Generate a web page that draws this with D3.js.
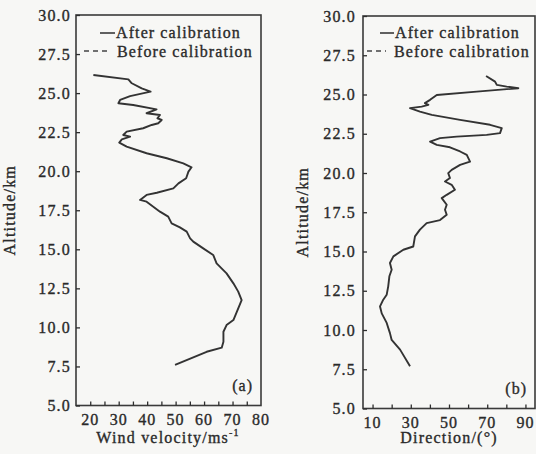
<!DOCTYPE html>
<html>
<head>
<meta charset="utf-8">
<script src="https://cdn.jsdelivr.net/npm/d3@7"></script>
<style>
  html, body { margin: 0; padding: 0; background: #f7f7f5; }
  svg { display: block; }
  text { font-family: "Liberation Serif", "DejaVu Serif", serif; fill: #2a2a2a; stroke: #2a2a2a; stroke-width: 0.35px; }
</style>
</head>
<body>
<svg id="chart" width="536" height="454"></svg>
<script>
// ---------- data ----------
const yTicks = [5.0, 7.5, 10.0, 12.5, 15.0, 17.5, 20.0, 22.5, 25.0, 27.5, 30.0];
const velTickLabels = [20, 30, 40, 50, 60, 70, 80];
const velMinorTicks = [20, 25, 30, 35, 40, 45, 50, 55, 60, 65, 70, 75];
const dirTickLabels = [10, 30, 50, 70, 90];
const dirMinorTicks = [10, 20, 30, 40, 50, 60, 70, 80, 90];
const legendLabels = ["After calibration", "Before calibration"];

// wind velocity (m/s) vs altitude (km)
const windAlt = [26.16, 25.88, 25.63, 25.30, 25.09, 24.81, 24.56, 24.35, 24.24, 23.96, 23.71, 23.60, 23.39, 23.28, 23.07,
  22.96, 22.75, 22.53, 22.32, 22.21, 22.04, 21.83, 21.57, 21.15, 20.83, 20.50, 20.25, 19.97, 19.55, 19.22, 18.90,
  18.62, 18.48, 18.16, 18.05, 17.41, 17.09, 16.66, 16.40, 16.13, 15.70, 15.49, 15.06, 14.64, 14.10, 13.46, 12.82,
  12.29, 11.75, 11.00, 10.47, 10.15, 9.72, 9.08, 8.70, 8.44, 7.60];
const windVel = [21.1, 33.4, 34.6, 38.1, 41.2, 34.0, 30.5, 29.9, 35.1, 43.3, 39.8, 44.5, 43.6, 45.1, 43.9,
  41.6, 38.6, 32.8, 31.6, 34.0, 31.1, 30.2, 32.8, 39.8, 46.9, 52.7, 55.6, 54.5, 53.7, 51.0, 49.2,
  43.4, 39.8, 37.5, 39.8, 44.5, 47.4, 48.6, 51.5, 53.9, 55.1, 56.2, 59.7, 63.2, 64.4, 67.9, 70.3,
  72.0, 73.2, 71.5, 70.3, 67.9, 66.8, 66.8, 66.2, 60.9, 49.8];

// wind direction (deg) vs altitude (km)
const dirAlt = [26.18, 25.82, 25.61, 25.50, 25.40, 25.18, 24.97, 24.66, 24.45, 24.34, 24.23, 24.13, 23.91, 23.70,
  23.38, 23.07, 22.86, 22.54, 22.43, 22.32, 22.22, 22.00, 21.79, 21.64, 21.37, 21.16, 20.73, 20.52, 20.20, 19.99,
  19.68, 19.46, 19.25, 18.93, 18.61, 18.40, 17.98, 17.66, 17.34, 17.00, 16.81, 16.39, 15.96, 15.32, 15.11, 14.69,
  14.27, 13.84, 13.42, 12.78, 12.25, 11.93, 11.50, 11.06, 10.45, 9.80, 9.37, 8.75, 7.69];
const dirVal = [69.4, 74.1, 75.0, 80.2, 86.3, 64.5, 43.6, 40.1, 37.4, 39.2, 35.7, 29.6, 34.8, 41.0,
  55.8, 71.5, 77.6, 76.7, 69.7, 54.0, 45.3, 40.1, 43.6, 50.5, 55.8, 59.3, 61.0, 55.8, 51.4, 49.6,
  50.5, 47.9, 51.4, 53.1, 48.8, 46.2, 48.8, 47.9, 48.8, 45.3, 38.3, 34.8, 32.2, 31.3, 26.1, 20.9,
  19.1, 20.0, 18.8, 18.2, 17.4, 15.6, 13.9, 14.8, 17.4, 19.1, 20.0, 24.4, 29.6];

// ---------- drawing ----------
const svg = d3.select("#chart");
const ink = "#2e2e2e";

const panels = [
  { xDomain: [15, 80], xRange: [76, 261], yRange: [405.5, 15],
    xLabels: velTickLabels, xMinor: velMinorTicks,
    alt: windAlt, val: windVel, tag: "(a)", titleX: 15, yLabelX: 71,
    legend: { solidX: [100, 115], dashX: [84, 108], textX: [116, 117] } },
  { xDomain: [5, 95], xRange: [363, 535], yRange: [408.5, 16],
    xLabels: dirTickLabels, xMinor: dirMinorTicks,
    alt: dirAlt, val: dirVal, tag: "(b)", titleX: 308, yLabelX: 356,
    legend: { solidX: [380, 394], dashX: [367, 386], textX: [395, 394] } }
];

panels.forEach((p, i) => {
  const x = d3.scaleLinear().domain(p.xDomain).range(p.xRange);
  const y = d3.scaleLinear().domain([5, 30]).range(p.yRange);
  const g = svg.append("g");

  // frame
  g.append("rect")
    .attr("x", p.xRange[0]).attr("y", p.yRange[1])
    .attr("width", p.xRange[1] - p.xRange[0]).attr("height", p.yRange[0] - p.yRange[1])
    .attr("fill", "none").attr("stroke", "#3a3a3a").attr("stroke-width", 1.6);

  // bottom ticks (inward)
  const xAxis = d3.axisBottom(x).tickValues(p.xMinor).tickSize(-4).tickFormat("");
  const gx = g.append("g").attr("transform", `translate(0,${p.yRange[0]})`).call(xAxis);
  gx.select(".domain").remove();
  gx.selectAll("line").attr("stroke", ink).attr("stroke-width", 1.3);

  // x tick labels
  g.selectAll(".xl").data(p.xLabels).enter().append("text")
    .attr("x", d => x(d)).attr("y", p.yRange[0] + 19)
    .attr("text-anchor", "middle").attr("font-size", 16).attr("letter-spacing", 1)
    .text(d => d);

  // left ticks (inward)
  const yAxis = d3.axisLeft(y).tickValues(yTicks).tickSize(-4).tickFormat("");
  const gy = g.append("g").attr("transform", `translate(${p.xRange[0]},0)`).call(yAxis);
  gy.select(".domain").remove();
  gy.selectAll("line").attr("stroke", ink).attr("stroke-width", 1.3);

  g.selectAll(".yl").data(yTicks).enter().append("text")
    .attr("x", p.yLabelX).attr("y", d => y(d) + 5.5)
    .attr("text-anchor", "end").attr("font-size", 16).attr("letter-spacing", 1.2)
    .text(d => d.toFixed(1));

  // y title
  g.append("text")
    .attr("transform", `translate(${p.titleX},${(p.yRange[0] + p.yRange[1]) / 2}) rotate(-90)`)
    .attr("text-anchor", "middle").attr("font-size", 16).attr("letter-spacing", 1.2)
    .text("Altitude/km");

  // curve
  const pts = p.alt.map((a, k) => [p.val[k], a]);
  const line = d3.line().x(d => x(d[0])).y(d => y(d[1]));
  g.append("path").datum(pts).attr("d", line)
    .attr("fill", "none").attr("stroke", "#333").attr("stroke-width", 1.9)
    .attr("stroke-linejoin", "round");

  // legend
  const L = p.legend;
  g.append("line").attr("x1", L.solidX[0]).attr("x2", L.solidX[1]).attr("y1", 33).attr("y2", 33)
    .attr("stroke", ink).attr("stroke-width", 1.5);
  g.append("text").attr("x", L.textX[0]).attr("y", 38).attr("font-size", 16).attr("letter-spacing", 1.1)
    .text(legendLabels[0]);
  g.append("line").attr("x1", L.dashX[0]).attr("x2", L.dashX[1]).attr("y1", 51).attr("y2", 51)
    .attr("stroke", "#444").attr("stroke-width", 1.4).attr("stroke-dasharray", "5,4");
  g.append("text").attr("x", L.textX[1]).attr("y", 57).attr("font-size", 16).attr("letter-spacing", 1.1)
    .text(legendLabels[1]);

  // panel tag
  g.append("text").attr("x", p.xRange[1] - 8).attr("y", p.yRange[0] - 15)
    .attr("text-anchor", "end").attr("font-size", 16).attr("letter-spacing", 1).text(p.tag);
});

// x titles
const t1 = svg.append("text").attr("x", 168).attr("y", 443).attr("text-anchor", "middle")
  .attr("font-size", 16).attr("letter-spacing", 1.2);
t1.append("tspan").text("Wind velocity/ms");
t1.append("tspan").attr("dy", -7).attr("font-size", 10).text("-1");

svg.append("text").attr("x", 449).attr("y", 443).attr("text-anchor", "middle")
  .attr("font-size", 16).attr("letter-spacing", 1.2).text("Direction/(°)");
</script>
</body>
</html>
